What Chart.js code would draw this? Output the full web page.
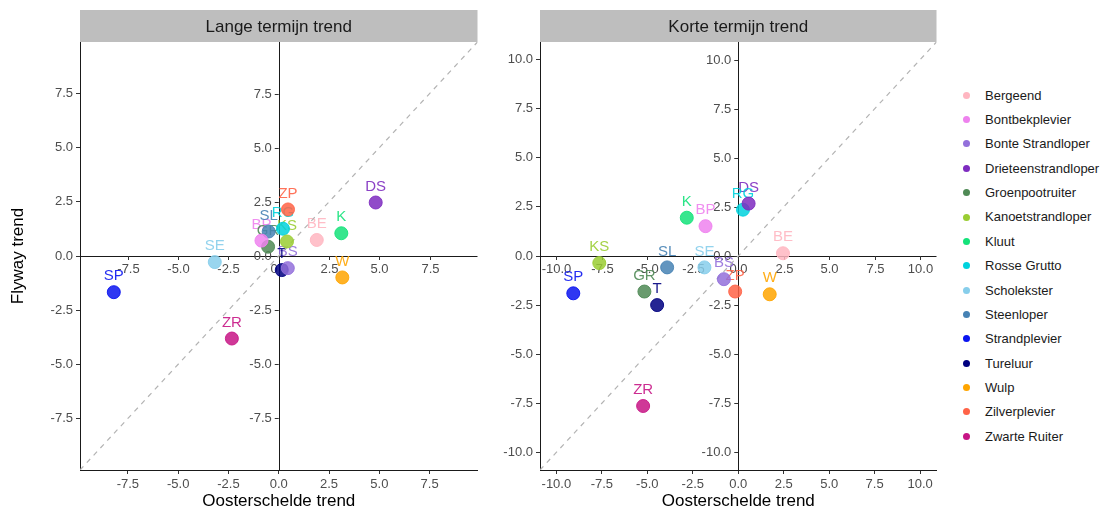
<!DOCTYPE html>
<html>
<head>
<meta charset="utf-8">
<script src="https://cdn.jsdelivr.net/npm/chart.js@4.4.0/dist/chart.umd.min.js"></script>
<style>
    body { margin: 0; background: #fff; width: 1101px; height: 510px; position: relative; overflow: hidden;
           font-family: "Liberation Sans", Arial, sans-serif; }
    #long-chart { position: absolute; left: 0; top: 0; }
    #short-chart { position: absolute; left: 480px; top: 0; }
    #legend { position: absolute; left: 0; top: 0; }
    .legend-item { position: absolute; left: 960px; height: 20px; line-height: 20px; font-size: 13px; color: #1a1a1a; white-space: nowrap; }
    .legend-dot { display: inline-block; width: 7px; height: 7px; border-radius: 50%; margin-left: 3px; margin-right: 15px; vertical-align: middle; position: relative; top: -1px; }
</style>
</head>
<body>
<canvas id="long-chart" width="485" height="510"></canvas>
<canvas id="short-chart" width="464" height="510"></canvas>
<div id="legend"></div>
<script>
// Species, short codes and colours
const species = ['Bergeend', 'Bontbekplevier', 'Bonte Strandloper', 'Drieteenstrandloper', 'Groenpootruiter',
    'Kanoetstrandloper', 'Kluut', 'Rosse Grutto', 'Scholekster', 'Steenloper', 'Strandplevier',
    'Tureluur', 'Wulp', 'Zilverplevier', 'Zwarte Ruiter'];
const codes = ['BE', 'BP', 'BS', 'DS', 'GR', 'KS', 'K', 'RG', 'SE', 'SL', 'SP', 'T', 'W', 'ZP', 'ZR'];
const colours = ['#FFB6C1', '#EE82EE', '#9370DB', '#7E2CC0', '#4F8A55', '#9ACD32', '#14E27A', '#00D2DD',
    '#87CEEB', '#4682B4', '#0A14F0', '#000080', '#FFA500', '#FF6347', '#C71585'];

// Lange termijn trend (Oosterschelde vs Flyway)
const longX = [1.89, -0.86, 0.45, 4.82, -0.53, 0.41, 3.11, 0.21, -3.18, -0.50, -8.20, 0.15, 3.16, 0.46, -2.33];
const longY = [0.74, 0.71, -0.56, 2.47, 0.43, 0.67, 1.05, 1.26, -0.28, 1.13, -1.67, -0.65, -0.99, 2.15, -3.81];

// Korte termijn trend
const shortX = [2.46, -1.80, -0.79, 0.57, -5.16, -7.64, -2.83, 0.26, -1.86, -3.91, -9.07, -4.46, 1.73, -0.17, -5.23];
const shortY = [0.14, 1.52, -1.18, 2.67, -1.81, -0.36, 1.95, 2.36, -0.58, -0.58, -1.90, -2.50, -1.95, -1.81, -7.64];

// Tick labels
const longTicks = [-7.5, -5.0, -2.5, 0.0, 2.5, 5.0, 7.5];
const shortTicks = [-10.0, -7.5, -5.0, -2.5, 0.0, 2.5, 5.0, 7.5, 10.0];

const FONT = '"Liberation Sans", Arial, sans-serif';
Chart.defaults.font.family = FONT;

function withAlpha(hex, a) {
    const n = parseInt(hex.slice(1), 16);
    return `rgba(${(n >> 16) & 255}, ${(n >> 8) & 255}, ${n & 255}, ${a})`;
}

// Strip header, zero axes with their own labels, and point labels
const panelDecor = {
    id: 'panelDecor',
    beforeDraw(chart, args, opts) {
        const { ctx, chartArea } = chart;
        ctx.save();
        ctx.fillStyle = '#BEBEBE';
        ctx.fillRect(chartArea.left, 10, chartArea.right - chartArea.left, 32);
        ctx.fillStyle = '#1a1a1a';
        ctx.font = '17px ' + FONT;
        ctx.textAlign = 'center';
        ctx.textBaseline = 'middle';
        ctx.fillText(opts.strip, (chartArea.left + chartArea.right) / 2, 27);
        ctx.restore();
    },
    beforeDatasetsDraw(chart, args, opts) {
        const { ctx, chartArea } = chart;
        const xScale = chart.scales.x;
        const yScale = chart.scales.y;
        const x0 = xScale.getPixelForValue(0);
        const y0 = yScale.getPixelForValue(0);

        ctx.save();
        ctx.strokeStyle = '#1a1a1a';
        ctx.lineWidth = 1;
        ctx.beginPath();
        ctx.moveTo(Math.round(x0) + 0.5, chartArea.top);
        ctx.lineTo(Math.round(x0) + 0.5, chartArea.bottom);
        ctx.moveTo(chartArea.left, Math.round(y0) + 0.5);
        ctx.lineTo(chartArea.right, Math.round(y0) + 0.5);
        ctx.stroke();

        ctx.font = '13px ' + FONT;
        ctx.fillStyle = '#4d4d4d';
        ctx.strokeStyle = '#333';

        // labels along the vertical zero line
        ctx.textAlign = 'right';
        ctx.textBaseline = 'middle';
        opts.ticks.forEach(v => {
            const py = Math.round(yScale.getPixelForValue(v)) + 0.5;
            ctx.beginPath();
            ctx.moveTo(x0 - 4, py);
            ctx.lineTo(x0, py);
            ctx.stroke();
            ctx.fillText(v.toFixed(1), x0 - 7, py);
        });

        // labels along the horizontal zero line
        ctx.textAlign = 'center';
        ctx.textBaseline = 'top';
        opts.ticks.forEach(v => {
            const px = Math.round(xScale.getPixelForValue(v)) + 0.5;
            ctx.beginPath();
            ctx.moveTo(px, y0);
            ctx.lineTo(px, y0 + 4);
            ctx.stroke();
            ctx.fillText(v.toFixed(1), px, y0 + 7);
        });

        // species codes above the points
        ctx.font = '15px ' + FONT;
        ctx.textBaseline = 'middle';
        ctx.textAlign = 'center';
        chart.data.datasets.forEach((ds, i) => {
            if (ds.code === undefined) return;
            const el = chart.getDatasetMeta(i).data[0];
            ctx.fillStyle = withAlpha(ds.colour, 0.9);
            ctx.fillText(ds.code, el.x, el.y - 16);
        });
        ctx.restore();
    }
};

function makePanel(canvasId, xs, ys, ticks, lim, strip, yWidth, yTitle, rightPad) {
    const datasets = [{
        type: 'line',
        data: [{ x: -lim, y: -lim }, { x: lim, y: lim }],
        borderColor: '#b3b3b3',
        borderWidth: 1.2,
        borderDash: [5, 5],
        pointRadius: 0,
        order: 1
    }];
    species.forEach((name, i) => {
        datasets.push({
            label: name,
            code: codes[i],
            colour: colours[i],
            data: [{ x: xs[i], y: ys[i] }],
            backgroundColor: withAlpha(colours[i], 0.85),
            borderColor: withAlpha(colours[i], 0.9),
            borderWidth: 1,
            pointRadius: 6.5,
            order: 0
        });
    });

    const axis = (fixSize) => ({
        type: 'linear',
        min: -lim,
        max: lim,
        afterBuildTicks: s => { s.ticks = ticks.map(v => ({ value: v })); },
        afterFit: fixSize,
        grid: { drawOnChartArea: false, drawTicks: true, tickLength: 4, color: '#333', tickColor: '#333' },
        border: { display: true, color: '#1a1a1a', width: 1 },
        ticks: {
            color: '#4d4d4d',
            font: { size: 13 },
            padding: 3,
            autoSkip: false,
            maxRotation: 0,
            callback: v => Number(v).toFixed(1)
        }
    });

    const xAxis = axis(s => { s.height = 40; });
    xAxis.title = { display: true, text: 'Oosterschelde trend', color: '#000', font: { size: 17, lineHeight: 1 }, padding: 0 };
    const yAxis = axis(s => { s.width = yWidth; });
    if (yTitle) {
        yAxis.title = { display: true, text: yTitle, color: '#000', font: { size: 17, lineHeight: 1 }, padding: { top: 10, bottom: 0 } };
    }

    return new Chart(document.getElementById(canvasId), {
        type: 'scatter',
        data: { datasets: datasets },
        options: {
            responsive: false,
            animation: false,
            layout: { padding: { top: 42, right: rightPad, left: 0, bottom: 0 } },
            scales: { x: xAxis, y: yAxis },
            plugins: {
                legend: { display: false },
                tooltip: { enabled: false },
                panelDecor: { strip: strip, ticks: ticks }
            }
        },
        plugins: [panelDecor]
    });
}

makePanel('long-chart', longX, longY, longTicks, 9.88, 'Lange termijn trend', 80, 'Flyway trend', 2);
makePanel('short-chart', shortX, shortY, shortTicks, 10.9, 'Korte termijn trend', 60, null, 4);

// Legend
const legend = document.getElementById('legend');
species.forEach((name, i) => {
    const item = document.createElement('div');
    item.className = 'legend-item';
    item.style.top = (85.7 + i * 24.35) + 'px';
    const dot = document.createElement('span');
    dot.className = 'legend-dot';
    dot.style.background = colours[i];
    item.appendChild(dot);
    item.appendChild(document.createTextNode(name));
    legend.appendChild(item);
});
</script>
</body>
</html>
